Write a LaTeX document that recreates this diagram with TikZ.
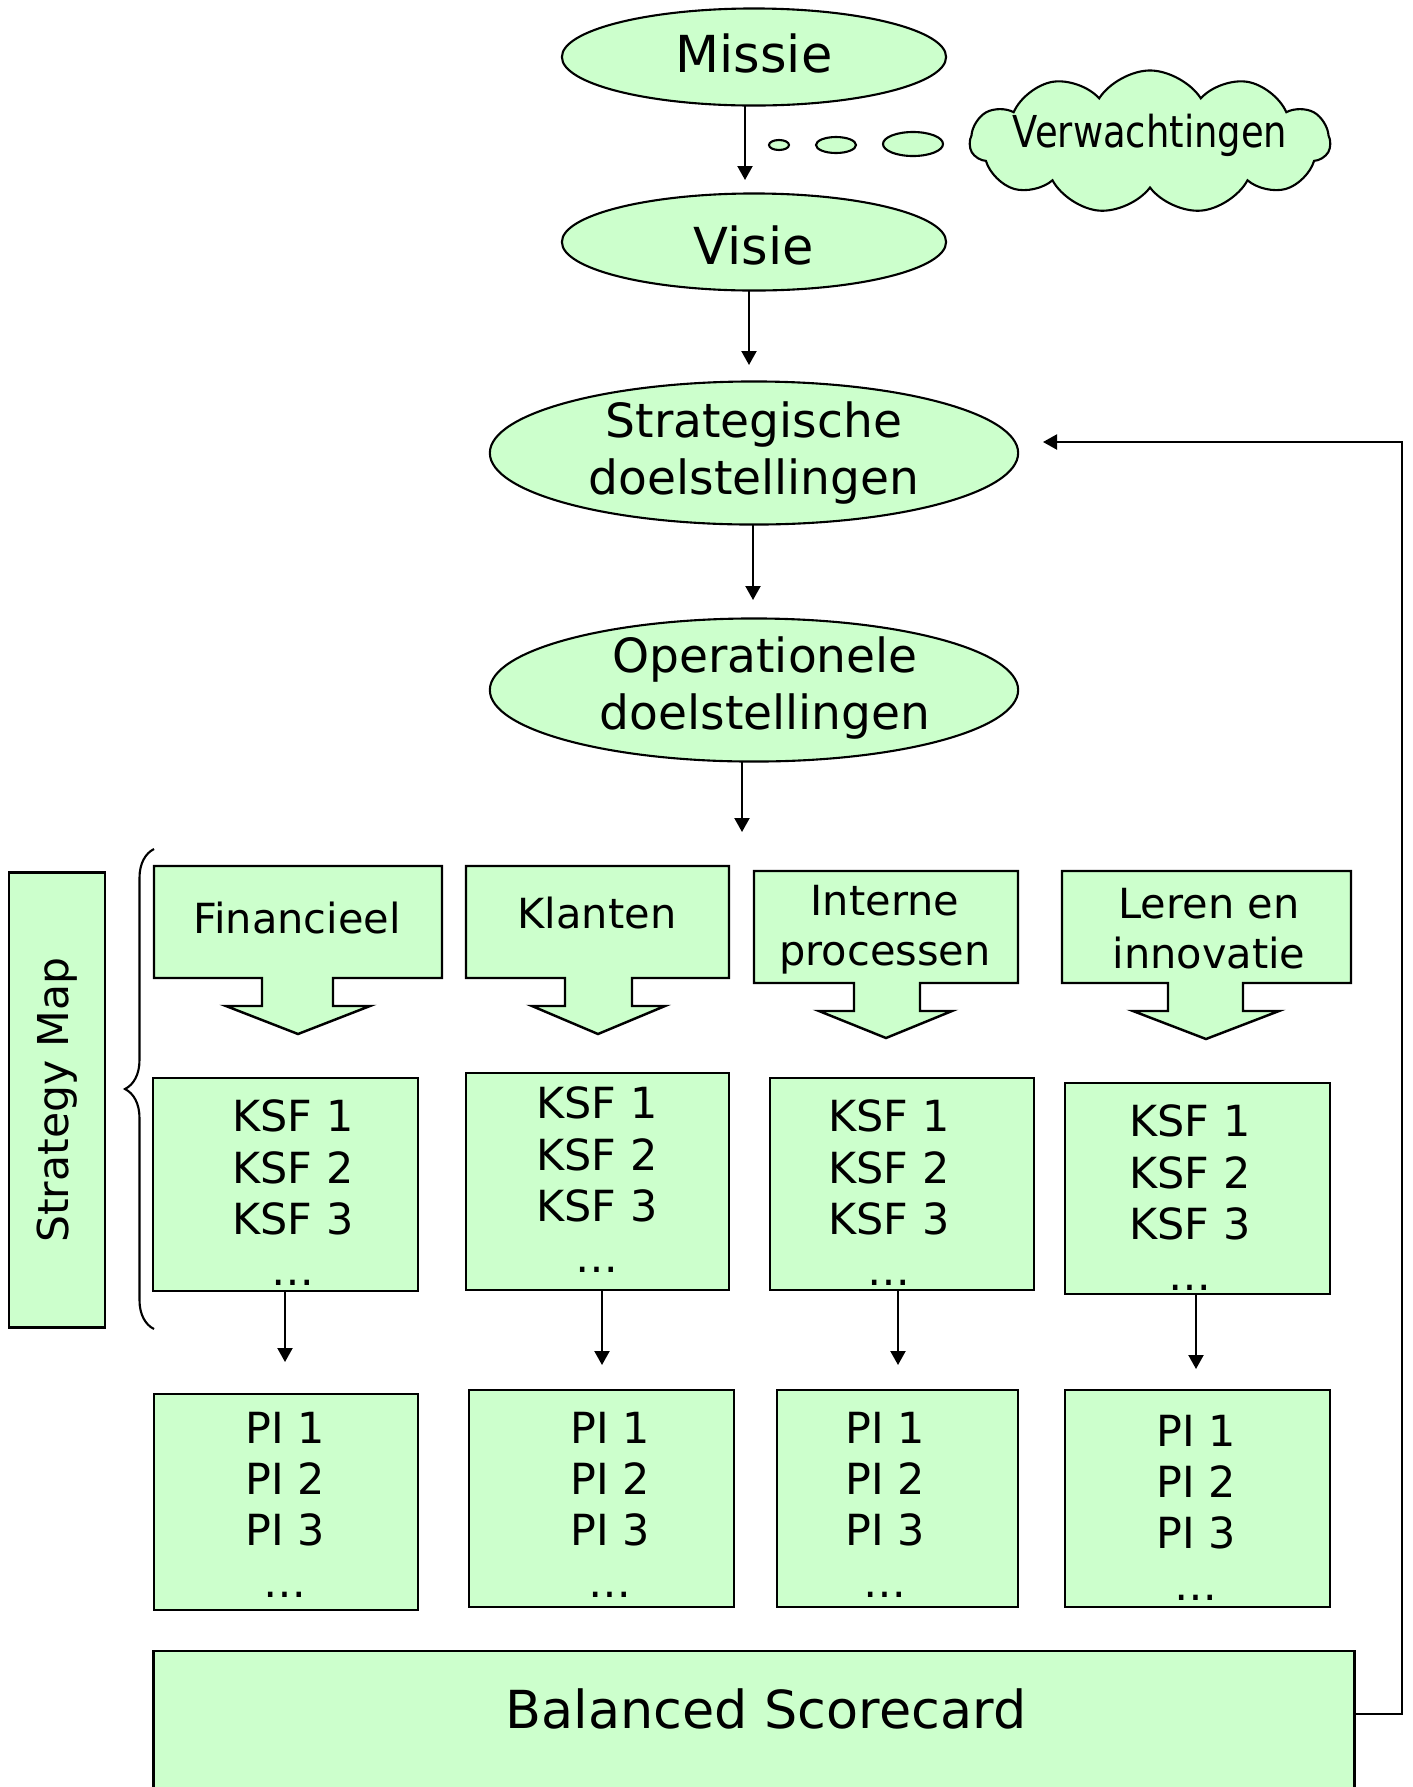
\documentclass[tikz,border=0pt]{standalone}
\usepackage{fontspec}
\usepackage{graphicx}
\setmainfont{DejaVu Sans}
\usetikzlibrary{shapes.geometric, shapes.symbols, arrows.meta, decorations.pathreplacing}
\definecolor{leaf}{HTML}{CCFFCC}

\begin{document}
\begin{tikzpicture}[x=0.01cm, y=-0.01cm,
  every node/.style={inner sep=0pt, outer sep=0pt},
  shade/.style={draw=black, line width=0.7pt, fill=leaf},
  oval/.style={shade, ellipse, line width=0.6pt},
  panel/.style={shade, rectangle},
  arr/.style={line width=0.6pt, -{Triangle[length=0.14cm, width=0.15cm]}},
  bigfont/.style={font=\fontsize{14.5}{17}\selectfont, anchor=base},
  midfont/.style={font=\fontsize{13.4}{16.2}\selectfont, align=center},
  perfont/.style={font=\fontsize{11.8}{14.2}\selectfont, align=center},
  listfont/.style={font=\fontsize{12.2}{14.6}\selectfont, align=center, anchor=north},
]
\useasboundingbox (0,0) rectangle (1413,1787);

% ---- top chain of goals
\node[oval, minimum width=3.84cm, minimum height=0.97cm] (missie) at (754,57) {};
\node[bigfont] (missiet) at (754,72) {Missie};
\node[oval, minimum width=3.84cm, minimum height=0.97cm] (visie) at (754,242) {};
\node[bigfont] (visiet) at (754,264) {Visie};
\node[oval, minimum width=5.28cm, minimum height=1.43cm] (strat) at (754,453) {};
\node[midfont] (stratt) at (754,453) {Strategische\\doelstellingen};
\node[oval, minimum width=5.28cm, minimum height=1.43cm] (oper) at (754,690) {};
\node[midfont] (opert) at (765,688) {Operationele\\doelstellingen};

\coordinate (t1) at (745,180);
\coordinate (t2) at (749,365);
\coordinate (t3) at (753,600);
\coordinate (t4) at (742,832);
\draw[arr] (t1 |- missie.south) -- (t1);
\draw[arr] (t2 |- visie.south) -- (t2);
\draw[arr] (t3 |- strat.south) -- (t3);
\draw[arr] (t4 |- oper.south) -- (t4);

% ---- thought bubbles and cloud
\node[oval, minimum width=0.20cm, minimum height=0.10cm] (bub1) at (779,145) {};
\node[oval, minimum width=0.40cm, minimum height=0.16cm] (bub2) at (836,145) {};
\node[oval, minimum width=0.60cm, minimum height=0.24cm] (bub3) at (913,144) {};
\node[shade, line width=0.6pt, cloud, cloud puffs=11, cloud puff arc=115, aspect=2.5,
      minimum width=3.6cm, minimum height=1.43cm] (cloud) at (1150,142) {};
\node[anchor=base, font=\fontsize{12.5}{15}\selectfont] (wish) at (1150,147)
  {\scalebox{0.84}[1]{Verwachtingen}};

% ---- strategy map label and brace
\node[panel, rotate=90, minimum width=4.55cm, minimum height=0.96cm,
      font=\fontsize{12.1}{14}\selectfont] (smap) at (57,1100) {Strategy Map};
\draw[line width=0.6pt, decorate, decoration={brace, amplitude=0.29cm}]
  (154,1329) -- (154,849);

% ---- perspectives (boxes with a broad down arrow)
\draw[shade] (154,866) -- (442,866) -- (442,978) -- (333,978) -- (333,1006) -- (370,1006)
  -- (298,1034) -- (226,1006) -- (262,1006) -- (262,978) -- (154,978) -- cycle;
\draw[shade] (466,866) -- (729,866) -- (729,978) -- (632,978) -- (632,1006) -- (665,1006)
  -- (598,1034) -- (532,1006) -- (565,1006) -- (565,978) -- (466,978) -- cycle;
\draw[shade] (754,871) -- (1018,871) -- (1018,983) -- (920,983) -- (920,1011) -- (952,1011)
  -- (886,1038) -- (819,1011) -- (854,1011) -- (854,983) -- (754,983) -- cycle;
\draw[shade] (1062,871) -- (1351,871) -- (1351,983) -- (1243,983) -- (1243,1011) -- (1279,1011)
  -- (1206,1039) -- (1133,1011) -- (1168,1011) -- (1168,983) -- (1062,983) -- cycle;

\node[perfont, anchor=base] (fin) at (297,933) {Financieel};
\node[perfont, anchor=base] (kla) at (597,928) {Klanten};
\node[perfont] (int) at (885,930) {Interne\\processen};
\node[perfont] (ler) at (1209,929) {Leren en\\innovatie};

% ---- key success factors
\node[panel, minimum width=2.65cm, minimum height=2.13cm] (ksfA) at (285.5,1184.5) {};
\node[panel, minimum width=2.63cm, minimum height=2.17cm] (ksfB) at (597.5,1181.5) {};
\node[panel, minimum width=2.64cm, minimum height=2.12cm] (ksfC) at (902,1184) {};
\node[panel, minimum width=2.65cm, minimum height=2.11cm] (ksfD) at (1197.5,1188.5) {};
\node[listfont] (ksfAt) at (293,1100) {KSF 1\\KSF 2\\KSF 3\\…};
\node[listfont] (ksfBt) at (597,1087) {KSF 1\\KSF 2\\KSF 3\\…};
\node[listfont] (ksfCt) at (889,1100) {KSF 1\\KSF 2\\KSF 3\\…};
\node[listfont] (ksfDt) at (1190,1105) {KSF 1\\KSF 2\\KSF 3\\…};

% ---- performance indicators
\node[panel, minimum width=2.64cm, minimum height=2.16cm] (piA) at (286,1502) {};
\node[panel, minimum width=2.65cm, minimum height=2.17cm] (piB) at (601.5,1498.5) {};
\node[panel, minimum width=2.41cm, minimum height=2.17cm] (piC) at (897.5,1498.5) {};
\node[panel, minimum width=2.65cm, minimum height=2.17cm] (piD) at (1197.5,1498.5) {};
\node[listfont] (piAt) at (285,1412) {PI 1\\PI 2\\PI 3\\…};
\node[listfont] (piBt) at (610,1412) {PI 1\\PI 2\\PI 3\\…};
\node[listfont] (piCt) at (885,1412) {PI 1\\PI 2\\PI 3\\…};
\node[listfont] (piDt) at (1196,1415) {PI 1\\PI 2\\PI 3\\…};

\coordinate (k1) at (285,1362);
\coordinate (k2) at (602,1365);
\coordinate (k3) at (898,1365);
\coordinate (k4) at (1196,1369);
\draw[arr] (k1 |- ksfA.south) -- (k1);
\draw[arr] (k2 |- ksfB.south) -- (k2);
\draw[arr] (k3 |- ksfC.south) -- (k3);
\draw[arr] (k4 |- ksfD.south) -- (k4);

% ---- balanced scorecard and the feedback loop
\node[panel, minimum width=12cm, minimum height=1.8cm] (bsc) at (754,1741) {};
\node[anchor=base, font=\fontsize{14.9}{18}\selectfont] (bsct) at (766,1728) {Balanced Scorecard};
\coordinate (fbcorner) at (1402,1714);
\coordinate (fbtip) at (1043,442);
\draw[arr] (bsc.east |- fbcorner) -- (fbcorner) |- (fbtip);

\end{tikzpicture}
\end{document}
